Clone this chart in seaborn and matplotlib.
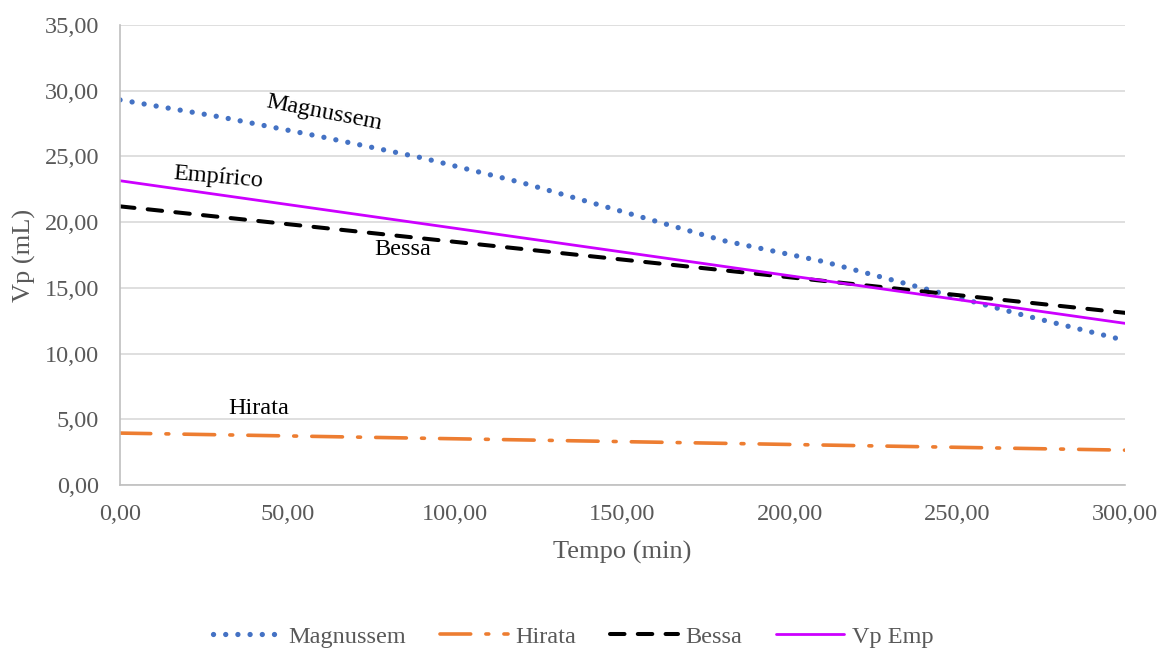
import matplotlib
matplotlib.use("Agg")
import matplotlib.pyplot as plt
import seaborn as sns
import numpy as np

# Time (min) and volume (mL) for each model
tempo = [0, 30, 60, 90, 120, 150, 180, 210, 240, 270, 300]
magnussem = [29.3, 28.0, 26.5, 24.9, 23.0, 20.8, 18.6, 17.0, 14.95, 12.9, 11.0]
hirata_t = [0, 300]
hirata = [3.95, 2.65]
bessa_t = [0, 300]
bessa = [21.2, 13.1]
emp_t = [0, 300]
vp_emp = [23.15, 12.3]

y_ticks = [0, 5, 10, 15, 20, 25, 30, 35]
x_ticks = [0, 50, 100, 150, 200, 250, 300]

sns.set_theme(style="white")
plt.rcParams["font.family"] = ["Liberation Serif", "DejaVu Serif"]

fig = plt.figure(figsize=(11.61, 6.51), dpi=100)
ax = fig.add_axes([0.1034, 0.255, 0.8656, 0.7066])

grey = "#595959"

sns.lineplot(x=tempo, y=magnussem, ax=ax, color="#4472C4", linewidth=3.8,
             linestyle=(0, (0.01, 2.3)), dash_capstyle="round", label="Magnussem")
sns.lineplot(x=hirata_t, y=hirata, ax=ax, color="#ED7D31", linewidth=2.6,
             linestyle=(0, (8.5, 4.2, 0.8, 4.2)), dash_capstyle="round", label="Hirata")
sns.lineplot(x=bessa_t, y=bessa, ax=ax, color="#000000", linewidth=2.9,
             linestyle=(0, (3.6, 3.3)), dash_capstyle="round", label="Bessa")
sns.lineplot(x=emp_t, y=vp_emp, ax=ax, color="#CC00FF", linewidth=2.0,
             label="Vp Emp")

ax.set_xlim(0, 300)
ax.set_ylim(0, 35)
ax.set_xticks(x_ticks)
ax.set_yticks(y_ticks)
ax.set_xticklabels([f"{v:.2f}".replace(".", ",") for v in x_ticks], fontsize=17.5, color=grey)
ax.set_yticklabels([f"{v:.2f}".replace(".", ",") for v in y_ticks], fontsize=17.5, color=grey)
ax.tick_params(axis="y", length=0, pad=15)
ax.tick_params(axis="x", length=0, pad=14)

ax.yaxis.grid(True, color="#d9d9d9", linewidth=1.2)
ax.xaxis.grid(False)
ax.set_axisbelow(True)
for side in ["top", "right"]:
    ax.spines[side].set_visible(False)
for side in ["left", "bottom"]:
    ax.spines[side].set_color("#bfbfbf")
    ax.spines[side].set_linewidth(1.2)

ax.set_xlabel("Tempo (min)", fontsize=19, color=grey, labelpad=11)
ax.set_ylabel("Vp (mL)", fontsize=19, color=grey, labelpad=6)

# Curve labels
ax.text(61, 28.3, "Magnussem", fontsize=17.5, color="black", rotation=-11,
        ha="center", va="center")
ax.text(29.3, 23.4, "Empírico", fontsize=17.5, color="black", rotation=-5,
        ha="center", va="center")
ax.text(84.5, 17.9, "Bessa", fontsize=17.5, color="black", ha="center", va="center")
ax.text(41.5, 5.85, "Hirata", fontsize=17.5, color="black", ha="center", va="center")

ax.get_legend().remove()
handles, labels = ax.get_legend_handles_labels()
leg = fig.legend(handles, labels, loc="center", bbox_to_anchor=(0.4935, 0.022),
                 ncol=4, frameon=False, fontsize=17.5, handlelength=2.8,
                 columnspacing=1.4, handletextpad=0.3)
for t in leg.get_texts():
    t.set_color(grey)

fig.savefig("out.png", dpi=100)
